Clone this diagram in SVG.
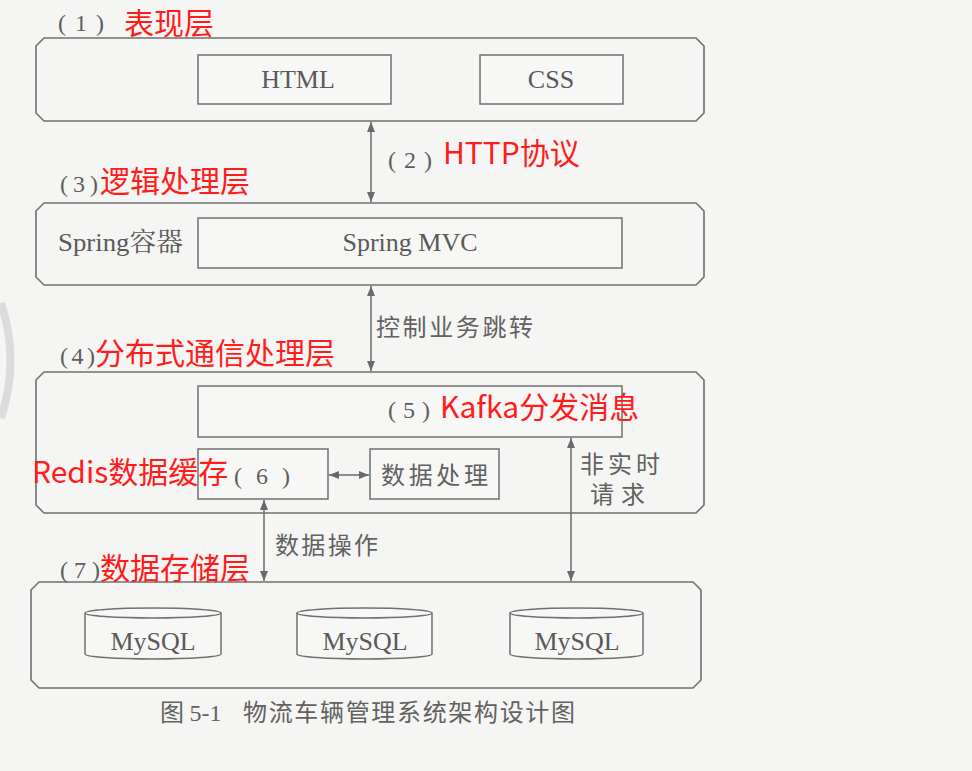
<svg xmlns="http://www.w3.org/2000/svg" width="972" height="771" viewBox="0 0 972 771">
<defs>
<marker id="ah" viewBox="0 0 10 10" refX="10" refY="5" markerWidth="10" markerHeight="10" markerUnits="userSpaceOnUse" orient="auto-start-reverse">
<path d="M0,1 L10,5 L0,9 Z" fill="#6a6a6a"/>
</marker>
</defs>
<style>
.layer{fill:none;stroke:#707070;stroke-width:1.6}
.box{fill:#f7f7f5;stroke:#707070;stroke-width:1.5}
.g{font-family:"Liberation Serif","Noto Serif CJK SC","Noto Sans CJK SC",serif;fill:#5a5a5a;font-size:26px}
.p{font-family:"Liberation Serif","Noto Sans CJK SC",serif;fill:#5e5e5e;font-size:24px}
.gc{font-family:"Noto Sans CJK SC","Liberation Serif",serif;fill:#626262;font-size:24px}
.r{font-family:"Noto Sans CJK SC","Noto Sans",sans-serif;fill:#ff1c1c;font-size:30px}
.conn{stroke:#6a6a6a;stroke-width:1.5;fill:none;marker-start:url(#ah);marker-end:url(#ah)}
.cyl{fill:#f7f7f5;stroke:#707070;stroke-width:1.5}
</style>
<rect width="972" height="771" fill="#f5f5f3"/>
<path d="M1,303 Q20,360 1,418" fill="none" stroke="#dcdcdc" stroke-width="8"/>

<g id="layer1">
<path class="layer" d="M44,38 L696,38 L704,46 L704,113 L696,121 L44,121 L36,113 L36,46 Z"/>
<text class="p" x="58" y="31" textLength="46" lengthAdjust="spacing">(1)</text>
<text class="r" x="124" y="34">表现层</text>
</g>
<g id="html">
<rect class="box" x="198" y="55" width="193" height="49"/>
<text class="g" x="298" y="88" text-anchor="middle">HTML</text>
</g>
<g id="css">
<rect class="box" x="480" y="55" width="143" height="49"/>
<text class="g" x="551" y="88" text-anchor="middle">CSS</text>
</g>

<g id="layer2">
<path class="layer" d="M44,203 L696,203 L704,211 L704,277 L696,285 L44,285 L36,277 L36,211 Z"/>
<text class="p" x="60" y="192" textLength="38" lengthAdjust="spacing">(3)</text>
<text class="r" x="100" y="192">逻辑处理层</text>
<text class="g" x="58" y="251" textLength="125" lengthAdjust="spacingAndGlyphs">Spring容器</text>
</g>
<g id="springmvc">
<rect class="box" x="198" y="218" width="424" height="50"/>
<text class="g" x="410" y="251" text-anchor="middle">Spring MVC</text>
</g>

<g id="layer3">
<path class="layer" d="M44,372 L696,372 L704,380 L704,505 L696,513 L44,513 L36,505 L36,380 Z"/>
<text class="p" x="60" y="364" textLength="35" lengthAdjust="spacing">(4)</text>
<text class="r" x="95" y="364">分布式通信处理层</text>
</g>
<g id="kafka">
<rect class="box" x="198" y="386" width="424" height="51"/>
<text class="p" x="388" y="418" textLength="42" lengthAdjust="spacing">(5)</text>
<text class="r" x="440" y="418">Kafka分发消息</text>
</g>
<g id="redis">
<rect class="box" x="198" y="449" width="130" height="50"/>
<text class="p" x="234" y="484" textLength="56" lengthAdjust="spacing">(6)</text>
<text class="r" x="32" y="483">Redis数据缓存</text>
</g>
<g id="dataproc">
<rect class="box" x="370" y="449" width="129" height="50"/>
<text class="gc" x="381" y="484" textLength="107" lengthAdjust="spacing">数据处理</text>
</g>

<g id="layer4">
<path class="layer" d="M39,582 L693,582 L701,590 L701,680 L693,688 L39,688 L31,680 L31,590 Z"/>
<text class="p" x="60" y="578" textLength="40" lengthAdjust="spacing">(7)</text>
<text class="r" x="100" y="579">数据存储层</text>
</g>
<g id="mysql1">
<path class="cyl" d="M85,613 L85,654 A68,5 0 0 0 221,654 L221,613"/>
<ellipse class="cyl" cx="153" cy="613" rx="68" ry="5"/>
<text class="g" x="153" y="650" text-anchor="middle">MySQL</text>
</g>
<g id="mysql2">
<path class="cyl" d="M297,613 L297,654 A67.5,5 0 0 0 432,654 L432,613"/>
<ellipse class="cyl" cx="364.5" cy="613" rx="67.5" ry="5"/>
<text class="g" x="365" y="650" text-anchor="middle">MySQL</text>
</g>
<g id="mysql3">
<path class="cyl" d="M510,613 L510,654 A66.5,5 0 0 0 643,654 L643,613"/>
<ellipse class="cyl" cx="576.5" cy="613" rx="66.5" ry="5"/>
<text class="g" x="577" y="650" text-anchor="middle">MySQL</text>
</g>

<g id="connectors">
<line class="conn" x1="371" y1="122" x2="371" y2="202"/>
<line class="conn" x1="371" y1="286" x2="371" y2="371"/>
<line class="conn" x1="329" y1="475" x2="369" y2="475"/>
<line class="conn" x1="264" y1="500" x2="264" y2="581"/>
<line class="conn" x1="571" y1="438" x2="571" y2="581"/>
<text class="p" x="388" y="168" textLength="44" lengthAdjust="spacing">(2)</text>
<text class="r" x="443" y="164">HTTP协议</text>
<text class="gc" x="376" y="336" textLength="157" lengthAdjust="spacing">控制业务跳转</text>
<text class="gc" x="580" y="473" textLength="80" lengthAdjust="spacing">非实时</text>
<text class="gc" x="590" y="503" textLength="55" lengthAdjust="spacing">请求</text>
<text class="gc" x="275" y="554" textLength="103" lengthAdjust="spacing">数据操作</text>
</g>

<g id="caption">
<text class="gc" x="160" y="721" font-size="21">图 <tspan font-family="Liberation Serif">5-1</tspan></text>
<text class="gc" x="243" y="721" font-size="21" textLength="332" lengthAdjust="spacing">物流车辆管理系统架构设计图</text>
</g>
</svg>
